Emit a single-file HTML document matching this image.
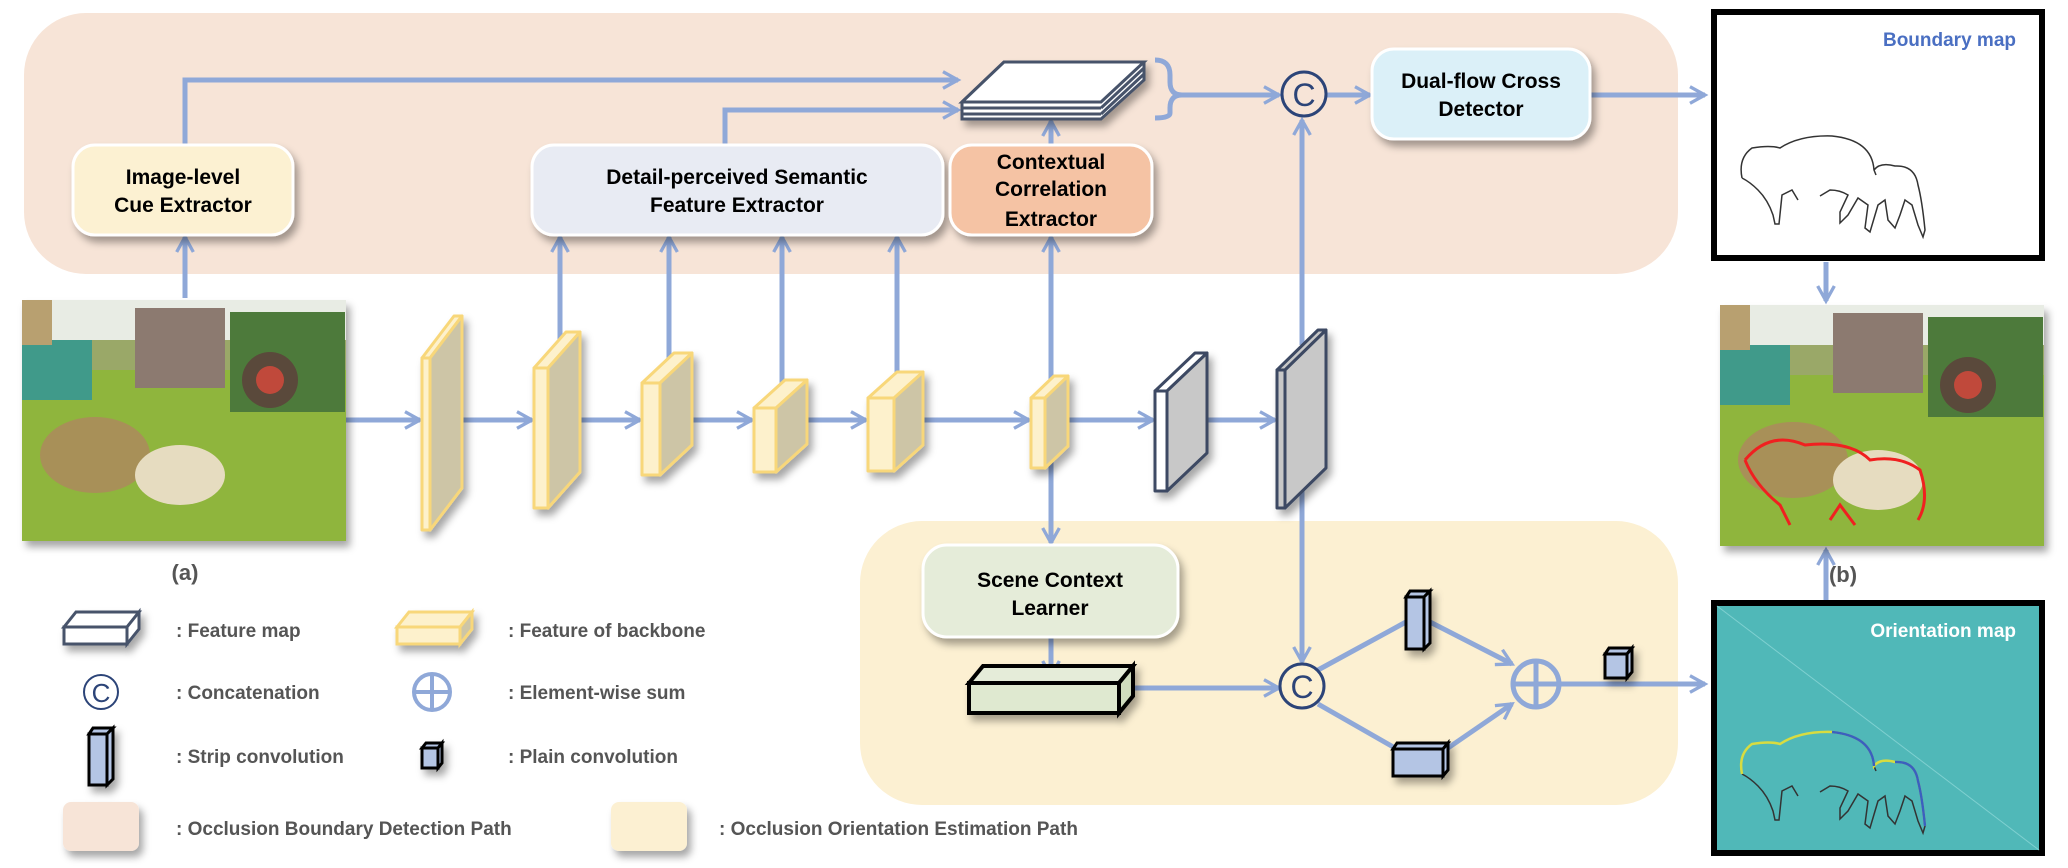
<!DOCTYPE html>
<html><head><meta charset="utf-8"><style>
html,body{margin:0;padding:0;background:#fff}
svg{display:block}
text{font-family:"Liberation Sans",Arial,sans-serif;font-weight:bold}
.bx{font-size:21px;fill:#000;text-anchor:middle}
.lg{font-size:19px;fill:#555}
</style></head><body>
<svg id="s" width="2068" height="868" viewBox="0 0 2068 868" xmlns="http://www.w3.org/2000/svg">
<defs>
<filter id="sh" x="-20%" y="-20%" width="150%" height="160%"><feDropShadow dx="4" dy="6" stdDeviation="4" flood-color="#000" flood-opacity="0.35"/></filter>
<marker id="ah" viewBox="0 0 12 12" refX="10" refY="6" markerWidth="4" markerHeight="4" orient="auto-start-reverse" markerUnits="strokeWidth"><path d="M1,1 L10,6 L1,11" fill="none" stroke="#8fa8d8" stroke-width="2"/></marker>
</defs>
<rect x="24" y="13" width="1654" height="261" rx="62" fill="#f7e4d7"/>
<rect x="860" y="521" width="818" height="284" rx="62" fill="#fcf0d2"/>

<g stroke="#8fa8d8" stroke-width="5" fill="none">
<line x1="346" y1="420" x2="420" y2="420" marker-end="url(#ah)"/>
<line x1="455" y1="420" x2="532" y2="420" marker-end="url(#ah)"/>
<line x1="570" y1="420" x2="640" y2="420" marker-end="url(#ah)"/>
<line x1="685" y1="420" x2="752" y2="420" marker-end="url(#ah)"/>
<line x1="800" y1="420" x2="866" y2="420" marker-end="url(#ah)"/>
<line x1="915" y1="420" x2="1029" y2="420" marker-end="url(#ah)"/>
<line x1="1063" y1="420" x2="1153" y2="420" marker-end="url(#ah)"/>
<line x1="1185" y1="420" x2="1275" y2="420" marker-end="url(#ah)"/>
<line x1="185" y1="298" x2="185" y2="237" marker-end="url(#ah)"/>
<line x1="560" y1="355" x2="560" y2="237" marker-end="url(#ah)"/>
<line x1="669" y1="372" x2="669" y2="237" marker-end="url(#ah)"/>
<line x1="782" y1="388" x2="782" y2="237" marker-end="url(#ah)"/>
<line x1="897" y1="375" x2="897" y2="237" marker-end="url(#ah)"/>
<line x1="1051" y1="385" x2="1051" y2="237" marker-end="url(#ah)"/>
<line x1="1051" y1="145" x2="1051" y2="121" marker-end="url(#ah)"/>
<polyline points="185,145 185,80 958,80" marker-end="url(#ah)"/>
<polyline points="725,145 725,110 958,110" marker-end="url(#ah)"/>
<path d="M1155,60 Q1170,60 1170,75 L1170,82 Q1170,95 1182,95 Q1170,95 1170,108 L1170,113 Q1170,118 1155,118"/>
<line x1="1182" y1="95" x2="1279" y2="95" marker-end="url(#ah)"/>
<line x1="1327" y1="95" x2="1370" y2="95" marker-end="url(#ah)"/>
<line x1="1590" y1="95" x2="1705" y2="95" marker-end="url(#ah)"/>
<line x1="1302" y1="345" x2="1302" y2="120" marker-end="url(#ah)"/>
<line x1="1302" y1="490" x2="1302" y2="662" marker-end="url(#ah)"/>
<line x1="1051" y1="440" x2="1051" y2="543" marker-end="url(#ah)"/>
<line x1="1051" y1="637" x2="1051" y2="676" marker-end="url(#ah)"/>
<line x1="1130" y1="688" x2="1279" y2="688" marker-end="url(#ah)"/>
<line x1="1318" y1="670" x2="1406" y2="622"/>
<line x1="1318" y1="704" x2="1395" y2="748"/>
<line x1="1430" y1="622" x2="1512" y2="664" marker-end="url(#ah)"/>
<line x1="1448" y1="748" x2="1512" y2="704" marker-end="url(#ah)"/>
<line x1="1558" y1="684" x2="1705" y2="684" marker-end="url(#ah)"/>
<line x1="1826" y1="262" x2="1826" y2="301" marker-end="url(#ah)"/>
<line x1="1826" y1="600" x2="1826" y2="550" marker-end="url(#ah)"/>
</g>

<g filter="url(#sh)" stroke="#fff" stroke-width="3">
<rect x="73" y="145" width="220" height="90" rx="22" fill="#fcf1d2"/>
<rect x="532" y="145" width="411" height="90" rx="22" fill="#e8ebf3"/>
<rect x="950" y="145" width="202" height="90" rx="22" fill="#f5c3a4"/>
<rect x="1372" y="49" width="218" height="90" rx="22" fill="#dbf0f8"/>
<rect x="923" y="545" width="255" height="92" rx="24" fill="#e5ecd9"/>
</g>
<text class="bx" x="183" y="184">Image-level</text><text class="bx" x="183" y="212">Cue Extractor</text>
<text class="bx" x="737" y="184">Detail-perceived Semantic</text><text class="bx" x="737" y="212">Feature Extractor</text>
<text class="bx" x="1051" y="169">Contextual</text><text class="bx" x="1051" y="196">Correlation</text><text class="bx" x="1051" y="226">Extractor</text>
<text class="bx" x="1481" y="88">Dual-flow Cross</text><text class="bx" x="1481" y="116">Detector</text>
<text class="bx" x="1050" y="587">Scene Context</text><text class="bx" x="1050" y="615">Learner</text>

<g filter="url(#sh)" stroke="#46536b" stroke-width="3" fill="#fff">
<polygon points="962,102 1004,62 1144,62 1144,80 1101,119 962,119"/>
<polygon points="962,102 1004,62 1144,62 1101,102"/>
<line x1="962" y1="108" x2="1101" y2="108"/><line x1="962" y1="114" x2="1101" y2="114"/>
<line x1="1101" y1="108" x2="1144" y2="68"/><line x1="1101" y1="114" x2="1144" y2="74"/>
</g>

<g id="slabs" filter="url(#sh)"></g>

<g fill="none" stroke="#2c4478" stroke-width="3">
<circle cx="1304" cy="94" r="22" fill="#f7e4d7"/>
<circle cx="1302" cy="686" r="22" fill="#fcf0d2"/>
</g>
<text x="1304" y="106" font-size="32" text-anchor="middle" fill="#2c4478" style="font-weight:normal">C</text>
<text x="1302" y="698" font-size="32" text-anchor="middle" fill="#2c4478" style="font-weight:normal">C</text>
<g stroke="#8fa8d8" stroke-width="5" fill="none"><circle cx="1536" cy="684" r="23"/><line x1="1513" y1="684" x2="1559" y2="684"/><line x1="1536" y1="661" x2="1536" y2="707"/></g>

<g filter="url(#sh)" stroke="#000" stroke-width="4">
<polygon points="969,683 983,666 1133,666 1119,683" fill="#e5ecd9"/>
<rect x="969" y="683" width="150" height="30" fill="#dfe9d0"/>
<polygon points="1119,683 1133,666 1133,696 1119,713" fill="#cfdcbe"/>
</g>

<!-- boundary map -->
<rect x="1714" y="12" width="328" height="246" fill="#fff" stroke="#000" stroke-width="6"/>
<text x="2016" y="46" font-size="19" fill="#4a6fc2" text-anchor="end">Boundary map</text>
<g id="sheep" fill="none" stroke="#333" stroke-width="1.5">
<path d="M1742,178 Q1738,158 1752,148 Q1770,145 1780,148 Q1800,135 1832,136 Q1872,140 1874,170 L1876,175 M1742,178 Q1750,182 1758,190 Q1768,200 1773,215 L1775,224 L1779,224 L1782,195 L1792,190 L1798,200 M1874,170 Q1880,162 1895,166 Q1915,165 1918,185 Q1922,200 1925,230 L1923,237 L1918,225 L1912,205 L1905,200 L1900,215 L1895,228 L1888,220 L1885,200 L1878,205 L1870,232 L1865,228 L1868,205 L1858,198 L1848,215 L1840,223 L1840,212 L1848,195 Q1840,190 1830,190 L1820,196"/>
</g>
<!-- orientation map -->
<rect x="1714" y="603" width="328" height="250" fill="#50b8b8" stroke="#000" stroke-width="6"/>
<line x1="1717" y1="606" x2="2039" y2="850" stroke="#7fd0d0" stroke-width="1"/>
<text x="2016" y="637" font-size="19" fill="#fff" text-anchor="end">Orientation map</text>
<use href="#sheep" transform="translate(0,596)" style="stroke:#d8dc40"/>
<path d="M1742,774 Q1738,754 1752,744 Q1770,741 1780,744 Q1800,731 1832,732 Q1872,736 1874,766 Q1880,758 1895,762 Q1915,761 1918,781 Q1922,796 1925,826" fill="none" stroke="#d8dc40" stroke-width="2.5"/>
<path d="M1832,732 Q1872,736 1874,766 M1895,762 Q1915,761 1918,781 Q1922,796 1925,826" fill="none" stroke="#3a60c0" stroke-width="2.5"/>

<g filter="url(#sh)">
<g id="ph1">
<rect x="22" y="300" width="324" height="241" fill="#8fb53c"/>
<rect x="22" y="300" width="324" height="55" fill="#e8ece4"/>
<rect x="22" y="340" width="324" height="30" fill="#9aa868"/>
<rect x="22" y="340" width="70" height="60" fill="#3f9a8a"/>
<rect x="22" y="300" width="30" height="45" fill="#b8a070"/>
<rect x="135" y="308" width="90" height="80" fill="#8c7a70"/>
<rect x="230" y="312" width="115" height="100" fill="#4e7a3a"/>
<circle cx="270" cy="380" r="28" fill="#5a4a3a"/><circle cx="270" cy="380" r="14" fill="#c04a3a"/>
<ellipse cx="95" cy="455" rx="55" ry="38" fill="#a89058"/>
<ellipse cx="180" cy="475" rx="45" ry="30" fill="#e6dcc0"/>
</g>
</g>
<g filter="url(#sh)">
<use href="#ph1" transform="translate(1698,5)"/>
</g>
<path d="M1745,460 Q1770,430 1805,445 Q1850,440 1870,460 Q1900,455 1920,470 Q1930,500 1918,520 M1745,460 Q1755,485 1780,505 L1790,525 M1830,520 L1840,505 L1855,525" fill="none" stroke="#f02020" stroke-width="3"/>

<text x="185" y="580" font-size="22" fill="#555" text-anchor="middle">(a)</text>
<text x="1843" y="582" font-size="22" fill="#555" text-anchor="middle">(b)</text>

<g filter="url(#sh)">
<g stroke="#46536b" stroke-width="3">
<polygon points="64,627 76,612 139,612 127,627" fill="#fff"/><rect x="64" y="627" width="63" height="17" fill="#fff"/><polygon points="127,627 139,612 139,629 127,644" fill="#fff"/>
</g>
<g stroke="#f8d77a" stroke-width="3">
<polygon points="397,627 409,612 472,612 460,627" fill="#fdf1cc"/><rect x="397" y="627" width="63" height="17" fill="#fdf1cc"/><polygon points="460,627 472,612 472,629 460,644" fill="#cdc5a6"/>
</g>
<g stroke="#000" stroke-width="3" fill="#b4c5e4">
<rect x="89" y="734" width="18" height="51"/><polygon points="89,734 93,728 113,728 107,734"/><polygon points="107,734 113,728 113,779 107,785"/>
<rect x="422" y="748" width="16" height="20"/><polygon points="422,748 426,743 442,743 438,748"/><polygon points="438,748 442,743 442,763 438,768"/>
<rect x="1406" y="597" width="18" height="52"/><polygon points="1406,597 1410,591 1430,591 1424,597"/><polygon points="1424,597 1430,591 1430,643 1424,649"/>
<rect x="1393" y="749" width="50" height="27"/><polygon points="1393,749 1397,743 1448,743 1443,749"/><polygon points="1443,749 1448,743 1448,770 1443,776"/>
<rect x="1605" y="654" width="22" height="24"/><polygon points="1605,654 1609,648 1632,648 1627,654"/><polygon points="1627,654 1632,648 1632,672 1627,678"/>
</g>
<rect x="63" y="802" width="76" height="49" rx="8" fill="#f7e4d7"/>
<rect x="611" y="802" width="76" height="49" rx="8" fill="#fcf0d2"/>
</g>
<circle cx="101" cy="692" r="17" fill="none" stroke="#2c4478" stroke-width="2"/>
<text x="101" y="702" font-size="26" text-anchor="middle" fill="#2c4478" style="font-weight:normal">C</text>
<g stroke="#8fa8d8" stroke-width="4" fill="none"><circle cx="432" cy="692" r="18"/><line x1="414" y1="692" x2="450" y2="692"/><line x1="432" y1="674" x2="432" y2="710"/></g>
<text class="lg" x="176" y="637">: Feature map</text>
<text class="lg" x="508" y="637">: Feature of backbone</text>
<text class="lg" x="176" y="699">: Concatenation</text>
<text class="lg" x="508" y="699">: Element-wise sum</text>
<text class="lg" x="176" y="763">: Strip convolution</text>
<text class="lg" x="508" y="763">: Plain convolution</text>
<text class="lg" x="176" y="835">: Occlusion Boundary Detection Path</text>
<text class="lg" x="719" y="835">: Occlusion Orientation Estimation Path</text>
</svg>
<script>
var g=document.getElementById('slabs'),NS='http://www.w3.org/2000/svg';
function P(pts,fill,st){var p=document.createElementNS(NS,'polygon');p.setAttribute('points',pts.map(function(a){return a.join(',')}).join(' '));p.setAttribute('fill',fill);p.setAttribute('stroke',st);p.setAttribute('stroke-width',3);p.setAttribute('stroke-linejoin','round');g.appendChild(p);}
function slab(x,y,w,h,f,dy,front,side,st){
P([[x,y+dy],[x+w-f,y],[x+w,y],[x+f,y+dy]],front,st);
P([[x,y+dy],[x+f,y+dy],[x+f,y+h],[x,y+h]],front,st);
P([[x+f,y+dy],[x+w,y],[x+w,y+h-dy],[x+f,y+h]],side,st);}
var Y='#f8d77a';
slab(422,316,40,214,8,42,'#fdf1cc','#cdc5a6',Y);
slab(534,332,46,176,14,36,'#fdf1cc','#cdc5a6',Y);
slab(642,353,50,122,18,30,'#fdf1cc','#cdc5a6',Y);
slab(754,380,53,92,22,28,'#fdf1cc','#cdc5a6',Y);
slab(868,372,55,99,26,26,'#fdf1cc','#cdc5a6',Y);
slab(1031,376,37,92,14,22,'#fdf1cc','#cdc5a6',Y);
slab(1155,353,52,138,12,38,'#fff','#c8c8c8','#3d4a63');
slab(1277,330,49,178,8,40,'#c8c8c8','#c8c8c8','#3d4a63');
</script>
</body></html>
